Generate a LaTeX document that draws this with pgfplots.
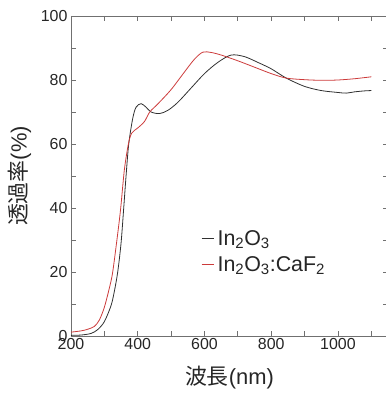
\documentclass[border=0pt]{standalone}
\usepackage{fontspec}
\setmainfont{Liberation Sans}
\newfontfamily\cjk{Noto Sans CJK JP}
\usepackage{pgfplots}
\pgfplotsset{compat=1.18}
\definecolor{axgray}{HTML}{707070}
\definecolor{lnblack}{HTML}{303030}
\definecolor{lnred}{HTML}{CC3A3A}
\pgfplotstableread{
x y
200 0.2
230 0.3
260 0.8
280 2
300 4.5
320 9.5
330 14
340 20
350 29
358 40
365 50
373 60
385 68
395 71.5
410 72.6
425 71.5
440 70
465 69.5
490 70.5
520 73
560 77.5
600 82
640 85.5
680 87.8
720 87.3
760 85.5
800 83.5
845 80.6
900 78
950 76.7
1000 76.1
1025 75.9
1050 76.3
1080 76.6
1100 76.7
}\tblA
\pgfplotstableread{
x y
200 1.2
230 1.6
250 2.1
270 3
285 5
300 9
315 15
325 20
340 32
349 40
360 52
372 60
382 63.4
400 65
420 67
436 70
460 72.5
500 77
540 82.5
570 86.5
595 88.7
620 88.6
650 87.8
700 86
750 84
800 82
845 80.6
900 80.1
950 79.9
1000 80
1050 80.4
1100 81
}\tblB
\begin{document}
\begin{tikzpicture}
\begin{axis}[
  name=ax,
  scale only axis,
  width=317bp, height=320bp,
  xmin=200, xmax=1150, ymin=0, ymax=100,
  xtick={200,400,...,1000}, minor xtick={300,500,...,1100},
  ytick={0,20,...,100}, minor ytick={10,30,...,90},
  tick align=inside,
  major tick length=5bp, minor tick length=5bp,
  axis line style={axgray, line width=0.8pt},
  every tick/.style={axgray, line width=0.8pt},
  tick label style={font=\fontsize{16}{18}\selectfont, text=black!85},
  /pgf/number format/assume math mode=true,
  /pgf/number format/1000 sep={},
  xticklabel style={yshift=1bp},
  xlabel={{\cjk 波長}(nm)},
  ylabel={{\cjk 透過率}(\%)},
  label style={font=\fontsize{22}{24}\selectfont, text=black!85},
  xlabel style={yshift=-9bp},
  ylabel style={yshift=3bp},
  legend style={draw=none, fill=none, at={(axis cs:590,33)}, anchor=north west,
    nodes={font=\fontsize{21.5}{23}\selectfont, text=black!85, inner sep=0pt, inner xsep=3.5bp},
    row sep=9bp, inner sep=0pt},
  legend cell align=left,
  legend image code/.code={\draw[#1] (0bp,0bp) -- (12bp,0bp);},
]
\addplot[lnblack, line width=0.8pt, smooth, tension=0.5] table {\tblA};
\addlegendentry{In\textsubscript{2}O\textsubscript{3}}
\addplot[lnred, line width=0.8pt, smooth, tension=0.5] table {\tblB};
\addlegendentry{In\textsubscript{2}O\textsubscript{3}:CaF\textsubscript{2}}
\end{axis}
\pgfresetboundingbox
\useasboundingbox ([shift={(-71bp,-61bp)}]ax.south west) rectangle ([shift={(-2bp,16bp)}]ax.north east);
\end{tikzpicture}
\end{document}
